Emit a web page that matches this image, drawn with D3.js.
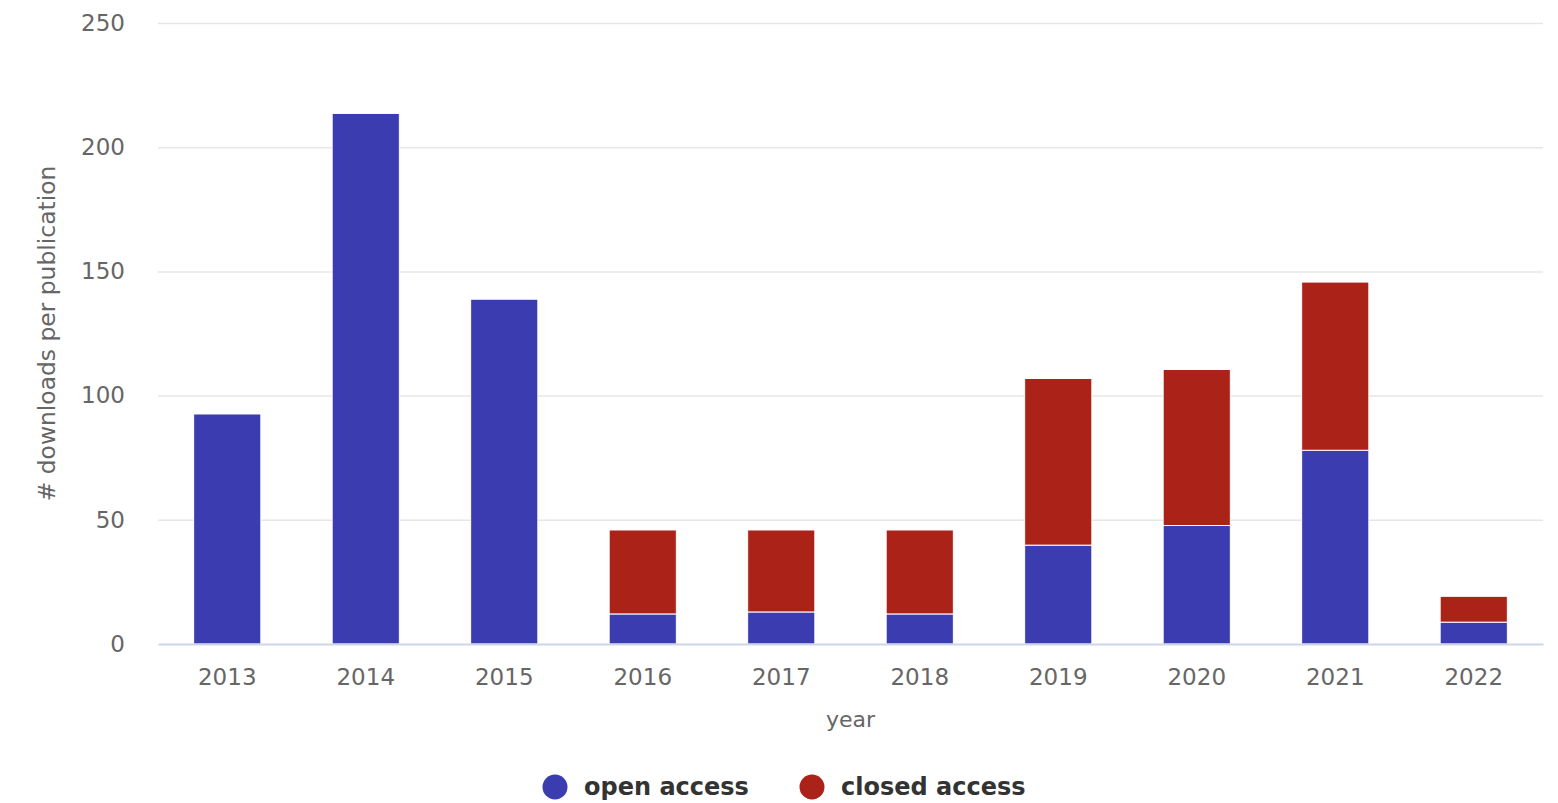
<!DOCTYPE html>
<html>
<head>
<meta charset="utf-8">
<script src="https://cdn.jsdelivr.net/npm/d3@7"></script>
<style>
  body { margin: 0; background: #fff; }
  svg { font-family: "DejaVu Sans", sans-serif; }
</style>
</head>
<body>
<div id="app"></div>
<script>
// data
const years = ["2013", "2014", "2015", "2016", "2017", "2018", "2019", "2020", "2021", "2022"];
const openAccess = [92.6, 213.6, 138.8, 12.1, 12.9, 12.1, 39.8, 47.7, 78.0, 8.8];
const closedAccess = [0, 0, 0, 33.8, 33.0, 33.8, 67.1, 62.8, 67.7, 10.4];
const seriesNames = ["open access", "closed access"];
const yTicks = [0, 50, 100, 150, 200, 250];

const colors = ["#3a3cb0", "#ab2219"];

const W = 1558, H = 803;
const margin = { left: 158, right: 15, top: 23, bottom: 159 };
const width = W - margin.left - margin.right;
const height = H - margin.top - margin.bottom;

const svg = d3.select("#app").append("svg")
    .attr("width", W)
    .attr("height", H);

const g = svg.append("g")
    .attr("transform", `translate(${margin.left},${margin.top})`);

const x = d3.scaleBand()
    .domain(years)
    .range([0, width])
    .paddingInner(0.515)
    .paddingOuter(0.2575);

const y = d3.scaleLinear()
    .domain([0, 250])
    .range([height, 0]);

// gridlines
g.append("g")
    .selectAll("line")
    .data(yTicks.filter(t => t > 0))
    .join("line")
        .attr("x1", 0)
        .attr("x2", width)
        .attr("y1", d => y(d) + 0.5)
        .attr("y2", d => y(d) + 0.5)
        .attr("stroke", "#e6e6e6")
        .attr("stroke-width", 1.5);

// y axis labels
const yAxis = g.append("g")
    .attr("transform", "translate(-33,0)")
    .call(d3.axisLeft(y).tickValues(yTicks).tickSize(0).tickPadding(0));
yAxis.select(".domain").remove();
yAxis.selectAll("text")
    .attr("fill", "#666")
    .style("font-size", "23px")
    .style("font-family", "DejaVu Sans, sans-serif");

// stacked data
const table = years.map((yr, i) => ({ year: yr, open: openAccess[i], closed: closedAccess[i] }));
const stacked = d3.stack().keys(["open", "closed"])(table);

g.append("g")
    .selectAll("g")
    .data(stacked)
    .join("g")
        .attr("fill", (d, i) => colors[i])
    .selectAll("rect")
    .data(d => d.filter(s => s[1] - s[0] > 0))
    .join("rect")
        .attr("x", d => x(d.data.year))
        .attr("y", d => y(d[1]))
        .attr("width", x.bandwidth())
        .attr("height", d => y(d[0]) - y(d[1]))
        .attr("stroke", "#fff")
        .attr("stroke-width", 1);

// x axis
const xAxis = g.append("g")
    .attr("transform", `translate(0,${height})`)
    .call(d3.axisBottom(x).tickSize(0).tickPadding(25));
xAxis.select(".domain")
    .attr("stroke", "#ccd6eb")
    .attr("stroke-width", 2);
xAxis.selectAll("text")
    .attr("fill", "#666")
    .style("font-size", "23px")
    .style("font-family", "DejaVu Sans, sans-serif");

// axis titles
g.append("text")
    .attr("x", width / 2)
    .attr("y", height + 83)
    .attr("text-anchor", "middle")
    .attr("fill", "#666")
    .style("font-size", "22px")
    .text("year");

svg.append("text")
    .attr("transform", `translate(55,${margin.top + height / 2}) rotate(-90)`)
    .attr("text-anchor", "middle")
    .attr("fill", "#666")
    .style("font-size", "23.4px")
    .text("# downloads per publication");

// legend
const legendX = [555, 812];
const legend = svg.append("g")
    .selectAll("g")
    .data(seriesNames)
    .join("g")
        .attr("transform", (d, i) => `translate(${legendX[i]},787)`);
legend.append("circle")
    .attr("r", 12.5)
    .attr("fill", (d, i) => colors[i]);
legend.append("text")
    .attr("x", 29)
    .attr("dy", "0.35em")
    .attr("fill", "#333")
    .style("font-size", "24px")
    .style("font-weight", "bold")
    .text(d => d);
</script>
</body>
</html>
